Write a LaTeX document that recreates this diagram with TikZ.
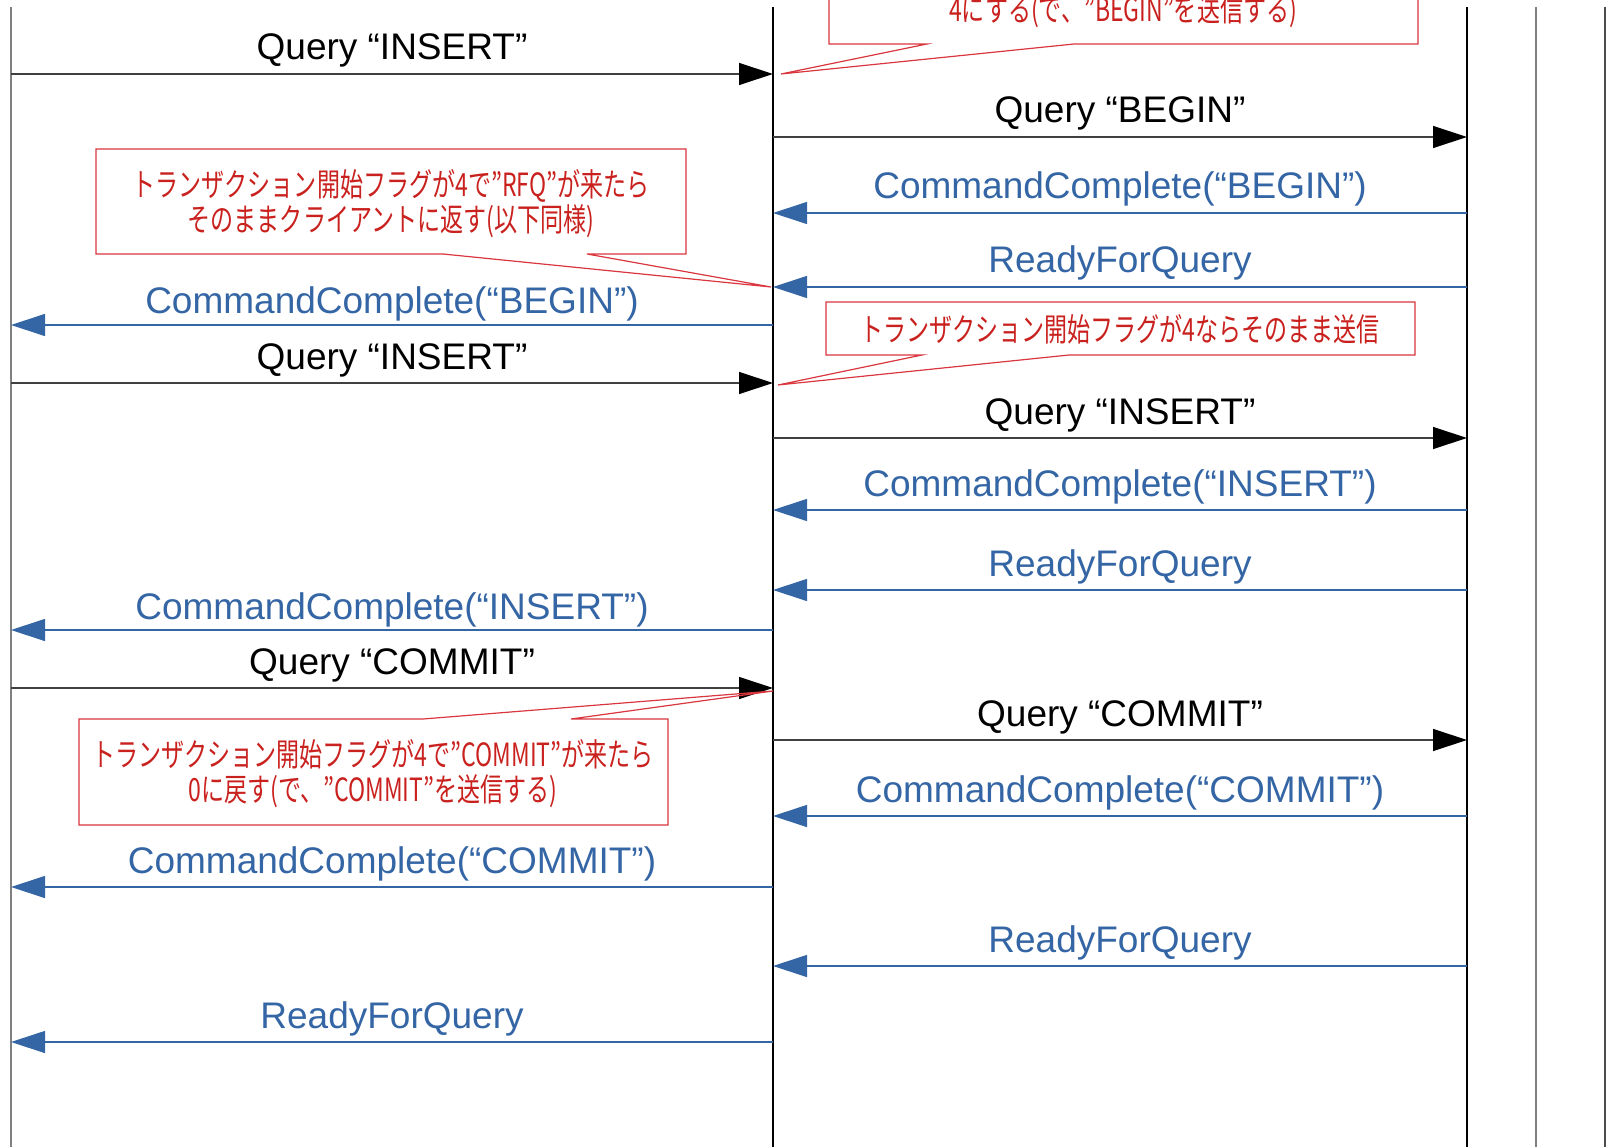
\documentclass[tikz,border=0pt]{standalone}
\usepackage{fontspec}
\setmainfont{Liberation Sans}
\newfontfamily\jpfont[FakeStretch=0.72]{Noto Sans CJK JP}
\usetikzlibrary{arrows.meta}
\definecolor{msgblue}{HTML}{3465A4}
\definecolor{notered}{HTML}{C9211E}
\definecolor{noteline}{HTML}{D9363E}
\begin{document}
\begin{tikzpicture}[x=1pt,y=-1pt,
  life/.style={line width=1.4pt},
  req/.style={line width=1.2pt, draw=black!75, -{Triangle[length=34pt,width=22pt,color=black]}},
  resp/.style={line width=1.2pt, draw=msgblue, -{Triangle[length=34pt,width=22pt,color=msgblue]}},
  lbl/.style={font=\fontsize{37}{44}\selectfont, anchor=base, inner sep=0pt},
  reqlbl/.style={lbl, text=black},
  resplbl/.style={lbl, text=msgblue},
  callout/.style={draw=noteline, line width=1.2pt, line join=miter},
  notetext/.style={font=\jpfont\fontsize{32}{35}\selectfont, text=notered, align=center, inner sep=0pt}]
\useasboundingbox (0,0) rectangle (1616,1147);
\clip (0,0) rectangle (1616,1147);

% lifelines
\coordinate (C) at (11,7);
\coordinate (P) at (773,7);
\coordinate (S) at (1467,7);
\coordinate (S2) at (1536,7);
\coordinate (S3) at (1605,7);
\draw[life, draw=gray] (C) -- (C |- 0,1147);
\draw[life, draw=black] (P) -- (P |- 0,1147);
\draw[life, draw=black] (S) -- (S |- 0,1147);
\draw[life, draw=gray] (S2) -- (S2 |- 0,1147);
\draw[life, draw=black!70] (S3) -- (S3 |- 0,1147);

% messages
\draw[req] (C |- 0,74) -- (P |- 0,74);
\node[reqlbl] (m1) at (392,60) {Query “INSERT”};

\draw[req] (P |- 0,137) -- (S |- 0,137);
\node[reqlbl] (m2) at (1120,123) {Query “BEGIN”};

\draw[resp] (S |- 0,213) -- (P |- 0,213);
\node[resplbl] (m3) at (1120,199) {CommandComplete(“BEGIN”)};

\draw[resp] (S |- 0,287) -- (P |- 0,287);
\node[resplbl] (m4) at (1120,273) {ReadyForQuery};

\draw[resp] (P |- 0,325) -- (C |- 0,325);
\node[resplbl] (m5) at (392,314) {CommandComplete(“BEGIN”)};

\draw[req] (C |- 0,383) -- (P |- 0,383);
\node[reqlbl] (m6) at (392,369) {Query “INSERT”};

\draw[req] (P |- 0,438) -- (S |- 0,438);
\node[reqlbl] (m7) at (1120,424) {Query “INSERT”};

\draw[resp] (S |- 0,510) -- (P |- 0,510);
\node[resplbl] (m8) at (1120,496) {CommandComplete(“INSERT”)};

\draw[resp] (S |- 0,590) -- (P |- 0,590);
\node[resplbl] (m9) at (1120,576) {ReadyForQuery};

\draw[resp] (P |- 0,630) -- (C |- 0,630);
\node[resplbl] (m10) at (392,619) {CommandComplete(“INSERT”)};

\draw[req] (C |- 0,688) -- (P |- 0,688);
\node[reqlbl] (m11) at (392,674) {Query “COMMIT”};

\draw[req] (P |- 0,740) -- (S |- 0,740);
\node[reqlbl] (m12) at (1120,726) {Query “COMMIT”};

\draw[resp] (S |- 0,816) -- (P |- 0,816);
\node[resplbl] (m13) at (1120,802) {CommandComplete(“COMMIT”)};

\draw[resp] (P |- 0,887) -- (C |- 0,887);
\node[resplbl] (m14) at (392,873) {CommandComplete(“COMMIT”)};

\draw[resp] (S |- 0,966) -- (P |- 0,966);
\node[resplbl] (m15) at (1120,952) {ReadyForQuery};

\draw[resp] (P |- 0,1042) -- (C |- 0,1042);
\node[resplbl] (m16) at (392,1028) {ReadyForQuery};

% callouts
\draw[callout] (829,-62) -- (1418,-62) -- (1418,44) -- (1074,44) -- (781,74) -- (927,44) -- (829,44) -- cycle;
\node[notetext] (nA) at (1123,11) {4にする(で、”BEGIN”を送信する)};

\draw[callout] (96,149) -- (686,149) -- (686,254) -- (587,254) -- (771,287) -- (443,254) -- (96,254) -- cycle;
\node[notetext] (nB) at (391,204) {トランザクション開始フラグが4で”RFQ”が来たら\\そのままクライアントに返す(以下同様)};

\draw[callout] (826,302) -- (1415,302) -- (1415,355) -- (1069,355) -- (778,385) -- (922,355) -- (826,355) -- cycle;
\node[notetext] (nC) at (1120,329) {トランザクション開始フラグが4ならそのまま送信};

\draw[callout] (79,719) -- (423,719) -- (773,691) -- (571,719) -- (668,719) -- (668,825) -- (79,825) -- cycle;
\node[notetext] (nD) at (373,774) {トランザクション開始フラグが4で”COMMIT”が来たら\\0に戻す(で、”COMMIT”を送信する)};
\end{tikzpicture}
\end{document}
